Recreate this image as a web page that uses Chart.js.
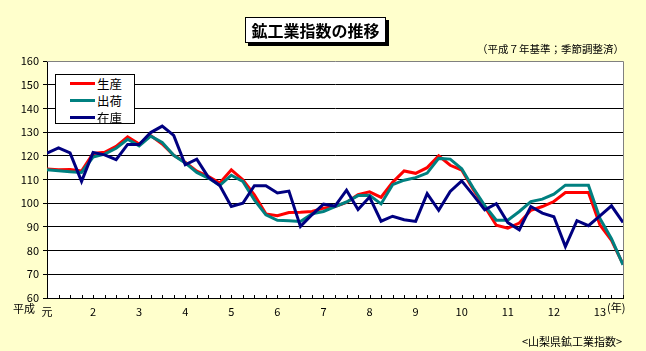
<!DOCTYPE html>
<html><head><meta charset="utf-8">
<script src="https://cdn.jsdelivr.net/npm/chart.js@4.4.1/dist/chart.umd.min.js"></script>
<style>
html,body{margin:0;padding:0;background:#FFFFCC;}
#wrap{position:relative;width:646px;height:351px;overflow:hidden;background:#FFFFCC;font-family:"Noto Sans CJK JP","Noto Sans",sans-serif;color:#000;}
canvas{position:absolute;left:0;top:0;}
.t{position:absolute;white-space:nowrap;line-height:1;}
#title{position:absolute;left:245px;top:17px;width:139px;height:24px;border:1px solid #000;background:#fff;box-shadow:3px 3px 0 #000;font-size:16px;font-weight:bold;text-align:center;line-height:24px;white-space:nowrap;}
#legend{position:absolute;left:55px;top:74px;width:78px;height:48px;border:1px solid #000;background:#fff;}
.li{position:absolute;left:14px;height:17px;width:60px;}
.sw{position:absolute;left:0;top:7px;width:25px;height:3px;}
.lt{position:absolute;left:27px;top:0;font-size:12.5px;line-height:17px;}
</style></head>
<body>
<div id="wrap">
<canvas id="c" width="646" height="351"></canvas>
<div id="title">鉱工業指数の推移</div>
<div class="t" style="left:477px;top:44px;font-size:10.5px;">（平成７年基準；季節調整済）</div>
<div id="legend"></div>
<div class="t" style="left:13px;top:303px;font-size:11px;">平成</div>
<div class="t" style="left:607px;top:302px;font-size:11px;">(年)</div>
<div class="t" style="left:522px;top:336px;font-size:11px;">&lt;山梨県鉱工業指数&gt;</div>
</div>
<script>
// Quarterly data, 平成元年 Q1 .. 平成13年 Q3 (51 points)
const seriesNames = ['生産', '出荷', '在庫'];
const seriesColors = ['#FF0000', '#008080', '#000080'];
const yearLabels = ['元','2','3','4','5','6','7','8','9','10','11','12','13'];
const yTicks = [60,70,80,90,100,110,120,130,140,150,160];

const production = [114.4,114.1,114.2,113.6,121,121.5,124,128,125,128.5,125,120.2,117.3,113.5,111.3,108.5,114.1,109.9,103.5,95.5,94.7,96.1,96.2,96.5,97.9,98.6,100.3,103.6,104.8,102.5,108.8,113.6,112.6,115,120,116,114,105.8,98.5,90.7,89.5,91.6,97,98.6,100.7,104.5,104.5,104.5,90.8,84.3,74.3];
const shipments = [114.1,113.7,113.3,113,119.5,120.7,123.2,127,124.2,128.3,125.6,120.2,117,113,110.6,107.5,111.8,109.2,101.4,95.1,92.8,92.6,92.3,95.5,96.5,98.6,100.5,103.2,103.3,99.7,107.8,109.7,110.8,112.7,118.9,118.6,114.5,106.4,99,92.8,92.8,96.5,100.7,101.7,103.8,107.6,107.6,107.6,93.5,85,74];
const inventory = [121.1,123.3,121.2,109.2,121.4,120.4,118.4,124.8,124.8,129.8,132.5,128.6,116.2,118.6,111,107.5,98.6,100,107.4,107.4,104.3,105.1,90.2,95.1,99.6,98.8,105.5,97.3,102.6,92.4,94.5,93,92.3,104,97,105,109.4,103.4,97.2,99.8,91.8,88.8,98.6,95.8,94.3,81.7,92.6,90.5,94.7,98.9,91.9];

const allSeries = [production, shipments, inventory];

// HTML legend
const lg = document.getElementById('legend');
seriesNames.forEach((n, k) => {
  const d = document.createElement('div');
  d.className = 'li';
  d.style.top = (0 + k*17) + 'px';
  d.innerHTML = '<div class="sw" style="background:' + seriesColors[k] + '"></div><div class="lt">' + n + '</div>';
  lg.appendChild(d);
});

const plotDeco = {
  id: 'plotDeco',
  beforeDraw(chart) {
    const a = chart.chartArea, c = chart.ctx;
    c.save();
    c.fillStyle = '#FFFFFF';
    c.fillRect(a.left, a.top, a.right - a.left, a.bottom - a.top);
    c.restore();
  },
  afterDraw(chart) {
    const a = chart.chartArea, c = chart.ctx, xs = chart.scales.x;
    c.save();
    c.strokeStyle = '#808080';
    c.lineWidth = 1;
    c.beginPath();
    c.moveTo(a.left, Math.round(a.top) + 0.5);
    c.lineTo(Math.round(a.right) + 0.5, Math.round(a.top) + 0.5);
    c.lineTo(Math.round(a.right) + 0.5, a.bottom);
    c.stroke();
    // inward minor ticks at each quarter boundary
    c.strokeStyle = '#000';
    c.beginPath();
    for (let i = 0; i < production.length; i++) {
      const px = Math.round(xs.getPixelForValue(i)) + 0.5;
      c.moveTo(px, a.bottom);
      c.lineTo(px, a.bottom - 3);
    }
    c.stroke();
    c.restore();
  }
};

new Chart(document.getElementById('c'), {
  type: 'line',
  data: {
    datasets: allSeries.map((arr, k) => ({
      label: seriesNames[k],
      data: arr.map((v, i) => ({x: i, y: v})),
      borderColor: seriesColors[k],
      backgroundColor: seriesColors[k],
      borderWidth: 3,
      pointRadius: 0,
      tension: 0,
      fill: false,
      order: 3 - k
    }))
  },
  options: {
    responsive: false,
    animation: false,
    devicePixelRatio: 1,
    layout: {padding: {left: 0, right: 23, top: 61, bottom: 23}},
    plugins: {legend: {display: false}, tooltip: {enabled: false}},
    scales: {
      x: {
        type: 'linear',
        min: 0,
        max: production.length - 1,
        afterBuildTicks(scale) {
          scale.ticks = yearLabels.map((l, k) => ({value: k * 4}));
        },
        afterFit(scale) { scale.height = 30; },
        grid: {display: false, drawTicks: false},
        border: {display: true, color: '#000', width: 1},
        ticks: {
          autoSkip: false,
          maxRotation: 0,
          padding: 7,
          color: '#000',
          font: {family: '"Noto Sans CJK JP", sans-serif', size: 11},
          callback: (v) => yearLabels[v / 4]
        }
      },
      y: {
        min: 60,
        max: 160,
        afterBuildTicks(scale) { scale.ticks = yTicks.map(v => ({value: v})); },
        afterFit(scale) { scale.width = 47; },
        grid: {
          color: (ctx) => (ctx.tick && (ctx.tick.value === 60 || ctx.tick.value === 160)) ? 'rgba(0,0,0,0)' : '#000',
          tickColor: '#000',
          borderDash: [4, 3],
          lineWidth: 1,
          drawTicks: true,
          tickLength: 4
        },
        border: {display: true, color: '#000', width: 1},
        ticks: {
          padding: 4,
          color: '#000',
          font: {family: '"Noto Sans CJK JP", sans-serif', size: 11}
        }
      }
    }
  },
  plugins: [plotDeco]
});
</script>
</body></html>
